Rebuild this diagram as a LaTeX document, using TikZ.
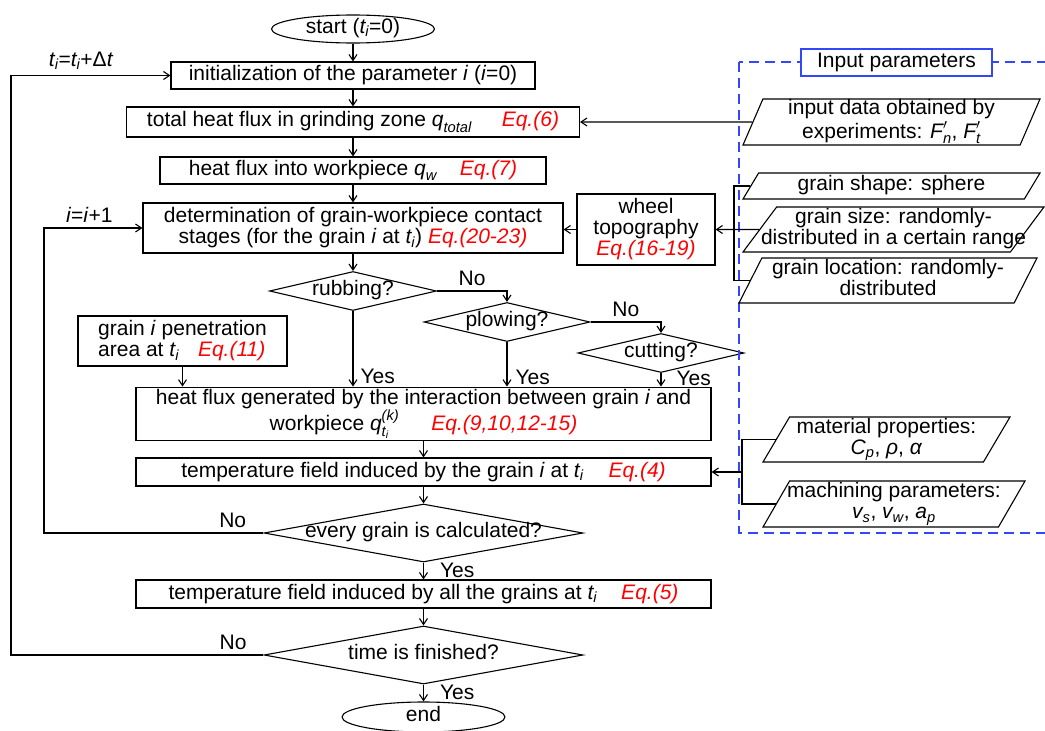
\documentclass[tikz,border=0pt]{standalone}
\usepackage{fontspec}
\usepackage{amsmath}
\setmainfont{Liberation Sans}
\usetikzlibrary{shapes.geometric, arrows.meta}

\definecolor{inblue}{RGB}{50,70,250}

\newcommand{\eqlab}[1]{\textcolor{red}{\textit{Eq.(#1)}}}
\newcommand{\sbs}[2]{$\textit{#1}_{\textit{#2}}$}
\newcommand{\nowidth}[1]{\makebox[0pt]{\begin{tabular}{@{}c@{}}#1\end{tabular}}}

\tikzset{
  proc/.style={draw, rectangle, inner sep=2pt, align=center},
  term/.style={draw, ellipse, inner xsep=0pt, inner ysep=-3pt},
  decide/.style={draw, diamond, inner sep=0pt},
  param/.style={draw, trapezium, trapezium stretches body=true, inner sep=0pt},
  lbl/.style={inner sep=5pt},
  yes/.style={right, inner sep=2pt},
}

\begin{document}
\begin{tikzpicture}[x=1pt, y=-1pt, >={Straight Barb[length=6pt,width=8pt]},
    line width=1.1pt, font=\fontsize{21}{21}\selectfont]
    \useasboundingbox (0,0) rectangle (1045,731);

    % main column
    \node[term, minimum width=163, minimum height=28] (start) at (353,29) {\nowidth{start (\sbs{t}{i}=0)}};
    \node[proc, minimum width=364, minimum height=27] (init) at (353,75.5)
        {initialization of the parameter \textit{i} (\textit{i}=0)};
    \node[proc, minimum width=453, minimum height=30] (total) at (353,122)
        {total heat flux in grinding zone \sbs{q}{total}\hspace{30pt}\eqlab{6}};
    \node[proc, minimum width=386, minimum height=27] (workp) at (353,170.5)
        {heat flux into workpiece \sbs{q}{w}\hspace{23pt}\eqlab{7}};
    \node[proc, minimum width=420, minimum height=50] (determ) at (353,228)
        {determination of grain-workpiece contact\\stages (for the grain \textit{i} at \sbs{t}{i}) \eqlab{20-23}};
    \node[proc, minimum width=138, minimum height=71] (wheel) at (646,229.5)
        {wheel\\topography\\\eqlab{16-19}};

    \node[decide, minimum width=167, minimum height=39] (rubbing) at (353,291) {\nowidth{rubbing?}};
    \node[decide, minimum width=166, minimum height=39] (plowing) at (507,322) {\nowidth{plowing?}};
    \node[decide, minimum width=166, minimum height=39] (cutting) at (661,353) {\nowidth{cutting?}};
    \node[proc, align=left, minimum width=209, minimum height=50] (penet) at (182.5,341)
        {grain \textit{i} penetration\\area at \sbs{t}{i}\hspace{19pt}\eqlab{11}};

    \node[proc, minimum width=575, minimum height=48] (heatgen) at (423.5,414)
        {heat flux generated by the interaction between grain \textit{i} and\\
         workpiece $\textit{q}^{\textit{(k)}}_{\textit{t}_{\textit{i}}}$\hspace{32pt}\eqlab{9,10,12-15}};
    \node[proc, minimum width=575, minimum height=28] (tempi) at (423.5,472)
        {temperature field induced by the grain \textit{i} at \sbs{t}{i}\hspace{25pt}\eqlab{4}};
    \node[decide, minimum width=319, minimum height=58] (every) at (423.5,533)
        {\nowidth{every grain is calculated?}};
    \node[proc, minimum width=575, minimum height=28] (tempall) at (423.5,594)
        {temperature field induced by all the grains at \sbs{t}{i}\hspace{24pt}\eqlab{5}};
    \node[decide, minimum width=319, minimum height=58] (time) at (423.5,655)
        {\nowidth{time is finished?}};
    \node[term, minimum width=163, minimum height=30] (stop) at (423.5,717) {\nowidth{end}};

    % input parameters
    \draw[inblue, dash pattern=on 10pt off 6pt] (739,62) rectangle (1070,533);
    \node[draw=inblue, fill=white, minimum width=191, minimum height=27, inner sep=2pt] (intitle)
        at (896.5,62.5) {Input parameters};

    \node[param, trapezium left angle=66, trapezium right angle=114, minimum width=297, minimum height=46]
        (indata) at (891.5,122)
        {\nowidth{input data obtained by\\experiments: $\textit{F}'_{\textit{n}}$, $\textit{F}'_{\textit{t}}$}};
    \node[param, trapezium left angle=54, trapezium right angle=126, minimum width=297, minimum height=26]
        (gshape) at (891.5,186) {\nowidth{grain shape: sphere}};
    \node[param, trapezium left angle=52, trapezium right angle=128, minimum width=301, minimum height=45]
        (gsize) at (893.5,229.5) {\nowidth{grain size: randomly-\\distributed in a certain range}};
    \node[param, trapezium left angle=62, trapezium right angle=118, minimum width=298, minimum height=45]
        (gloc) at (888,280.5) {\nowidth{grain location: randomly-\\distributed}};
    \node[param, trapezium left angle=58, trapezium right angle=122, minimum width=247, minimum height=45]
        (matprop) at (886.5,439.5) {\nowidth{material properties:\\\sbs{C}{p}, \textit{ρ}, \textit{α}}};
    \node[param, trapezium left angle=58, trapezium right angle=122, minimum width=262, minimum height=46]
        (machin) at (894,504) {\nowidth{machining parameters:\\\sbs{v}{s}, \sbs{v}{w}, \sbs{a}{p}}};

    % flow
    \foreach \a/\b in {start/init, init/total, total/workp, workp/determ, determ/rubbing,
                       heatgen/tempi, tempi/every, tempall/time}
        \draw[->] (\a) -- (\b);

    \draw[->] (rubbing.east) -| node[lbl, pos=0.25, above] {No} (plowing.north);
    \draw[->] (plowing.east) -| node[lbl, pos=0.25, above] {No} (cutting.north);
    \draw[->] (rubbing.south) -- (rubbing.south |- heatgen.north) node[yes, pos=0.87, xshift=5pt] {Yes};
    \draw[->] (plowing.south) -- (plowing.south |- heatgen.north) node[yes, pos=0.79, xshift=6pt] {Yes};
    \draw[->] (cutting.south) -- (cutting.south |- heatgen.north) node[yes, pos=0.43, xshift=13pt] {Yes};
    \draw[->] (penet) -- (penet |- heatgen.north);
    \draw[->] (every) -- (tempall) node[yes, pos=0.45, xshift=14pt] {Yes};
    \draw[->] (time) -- (stop) node[yes, pos=0.45, xshift=14pt] {Yes};

    % loops
    \coordinate (railin) at (44,0);
    \coordinate (railout) at (11,0);
    \draw[->] (every.west) -- node[lbl, above, pos=0.14] {No} (every.west -| railin)
        |- node[lbl, above, pos=0.73] {\textit{i}=\textit{i}+1} (determ.west);
    \draw[->] (time.west) -- node[lbl, above, pos=0.12] {No} (time.west -| railout)
        |- node[lbl, above, pos=0.72] {\sbs{t}{i}=\sbs{t}{i}+Δ\textit{t}} (init.west);

    % inputs into the chart
    \draw[->] (wheel) -- (wheel -| determ.east);
    \draw[->] (indata.west) -- (total.east);
    \coordinate (wrail) at (734,229.5);
    \draw (gshape.west) -| (wrail) |- (gloc.west);
    \draw[->] (gsize.west) -- (wheel.east);
    \coordinate (mrail) at (742,472);
    \draw (matprop.west) -| (mrail) |- (machin.west);
    \draw[->] (mrail) -- (tempi.east);
\end{tikzpicture}
\end{document}
